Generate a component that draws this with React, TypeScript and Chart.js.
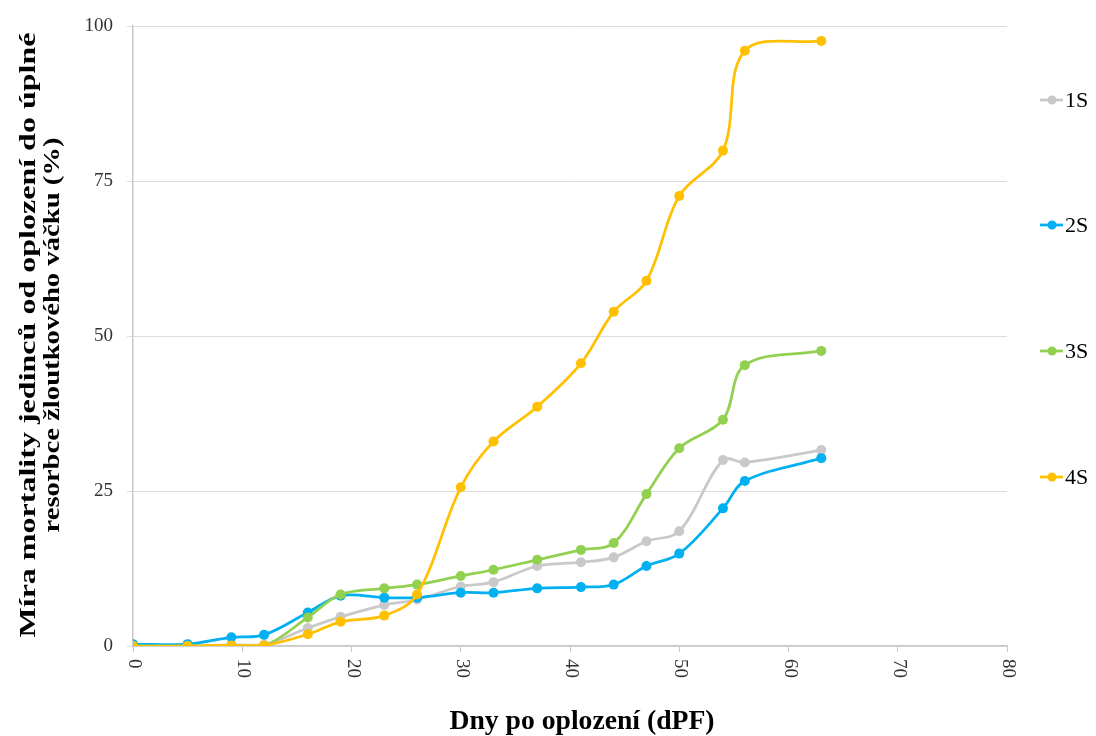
import React, { useEffect, useRef } from "react";
import { Chart, registerables } from "chart.js";

Chart.register(...registerables);

// Days after fertilisation at which mortality was recorded
const days = [0, 5, 9, 12, 16, 19, 23, 26, 30, 33, 37, 41, 44, 47, 50, 54, 56, 63];

// Cumulative mortality (%) for each group
const series1S = [0, 0, 0.2, 0.2, 2.9, 4.7, 6.6, 7.5, 9.6, 10.3, 12.9, 13.5, 14.3, 16.9, 18.5, 30.0, 29.6, 31.6];
const series2S = [0.3, 0.3, 1.4, 1.8, 5.4, 8.1, 7.8, 7.8, 8.6, 8.6, 9.3, 9.5, 9.9, 12.9, 14.9, 22.2, 26.6, 30.3];
const series3S = [0, 0, 0, 0, 4.6, 8.3, 9.3, 9.9, 11.3, 12.3, 13.9, 15.5, 16.6, 24.5, 31.9, 36.5, 45.3, 47.6];
const series4S = [0, 0, 0.1, 0.1, 1.9, 3.9, 4.9, 8.3, 25.6, 33.0, 38.6, 45.6, 53.9, 58.9, 72.6, 79.9, 96.0, 97.6];

const seriesNames = ["1S", "2S", "3S", "4S"];
const seriesColors = ["#C9C9C9", "#00B0F0", "#92D050", "#FFC000"];
const seriesValues = [series1S, series2S, series3S, series4S];

const xTicks = [0, 10, 20, 30, 40, 50, 60, 70, 80];
const yTicks = [0, 25, 50, 75, 100];

const xTitle = "Dny po oplození (dPF)";
const yTitleLines = ["Míra mortality jedinců od oplození do úplné", "resorbce žloutkového váčku (%)"];

const SERIF = "'Liberation Serif', 'Times New Roman', serif";

// Draws text squeezed or stretched to a given length
function fitText(ctx: CanvasRenderingContext2D, text: string, length: number) {
  const w = ctx.measureText(text).width;
  ctx.save();
  ctx.scale(length / w, 1);
  ctx.fillText(text, 0, 0);
  ctx.restore();
}

const annotations = {
  id: "annotations",
  afterDraw(chart: any) {
    const ctx: CanvasRenderingContext2D = chart.ctx;
    const xs = chart.scales.x;
    const ys = chart.scales.y;
    ctx.save();

    // x tick labels, rotated to read downwards
    ctx.fillStyle = "#333333";
    ctx.font = `19px ${SERIF}`;
    ctx.textAlign = "left";
    ctx.textBaseline = "middle";
    xTicks.forEach((t) => {
      const px = xs.getPixelForValue(t);
      ctx.save();
      ctx.translate(px + 1, ys.bottom + 13);
      ctx.rotate(Math.PI / 2);
      ctx.fillText(String(t), 0, 0);
      ctx.restore();
    });

    // axis titles
    ctx.fillStyle = "#000000";
    ctx.font = `bold 27px ${SERIF}`;
    ctx.textAlign = "center";
    ctx.textBaseline = "middle";
    ctx.save();
    ctx.translate(582, 722);
    fitText(ctx, xTitle, 265);
    ctx.restore();

    ctx.font = `bold 23px ${SERIF}`;
    const yLens = [605, 395];
    const yCx = [29, 53];
    yTitleLines.forEach((line, i) => {
      ctx.save();
      ctx.translate(yCx[i], 335);
      ctx.rotate(-Math.PI / 2);
      fitText(ctx, line, yLens[i]);
      ctx.restore();
    });

    // legend
    const legendY = [100, 225, 351, 477];
    ctx.font = `22px ${SERIF}`;
    ctx.textAlign = "left";
    ctx.textBaseline = "middle";
    seriesNames.forEach((name, i) => {
      const y = legendY[i];
      ctx.strokeStyle = seriesColors[i];
      ctx.lineWidth = 2.75;
      ctx.beginPath();
      ctx.moveTo(1040, y);
      ctx.lineTo(1063, y);
      ctx.stroke();
      ctx.fillStyle = seriesColors[i];
      ctx.beginPath();
      ctx.arc(1052, y, 4.5, 0, Math.PI * 2);
      ctx.fill();
      ctx.fillStyle = "#000000";
      ctx.fillText(name, 1065, y + 1);
    });

    ctx.restore();
  },
};

export default function App() {
  const canvasRef = useRef<HTMLCanvasElement | null>(null);

  useEffect(() => {
    document.body.style.margin = "0";
    const canvas = canvasRef.current;
    if (!canvas) return;

    const datasets = seriesNames.map((name, i) => ({
      label: name,
      data: days.map((d, j) => ({ x: d, y: seriesValues[i][j] })),
      borderColor: seriesColors[i],
      backgroundColor: seriesColors[i],
      borderWidth: 2.75,
      pointRadius: 5,
      pointBorderWidth: 0,
      pointBackgroundColor: seriesColors[i],
      tension: 0.35,
      order: seriesNames.length - i,
    }));

    const chart = new Chart(canvas, {
      type: "line",
      data: { datasets },
      options: {
        responsive: false,
        animation: false,
        layout: { padding: { left: 0, top: 26, right: 89, bottom: 0 } },
        plugins: { legend: { display: false }, tooltip: { enabled: false } },
        scales: {
          x: {
            type: "linear",
            min: 0,
            max: 80,
            afterBuildTicks: (scale: any) => {
              scale.ticks = xTicks.map((v) => ({ value: v }));
            },
            afterFit: (scale: any) => {
              scale.height = 90;
            },
            ticks: { display: false },
            grid: {
              drawOnChartArea: false,
              drawTicks: true,
              tickLength: 6,
              color: "#C8C8C8",
            },
            border: { color: "#C8C8C8", width: 1.5 },
          },
          y: {
            type: "linear",
            min: 0,
            max: 100,
            afterBuildTicks: (scale: any) => {
              scale.ticks = yTicks.map((v) => ({ value: v }));
            },
            afterFit: (scale: any) => {
              scale.width = 133;
            },
            ticks: {
              color: "#333333",
              font: { family: SERIF, size: 19 },
              padding: 14,
            },
            grid: { color: "#DCDCDC", tickLength: 6, lineWidth: 1 },
            border: { color: "#C8C8C8", width: 1.5 },
          },
        },
      },
      plugins: [annotations],
    });

    return () => chart.destroy();
  }, []);

  return <canvas ref={canvasRef} width={1096} height={736} style={{ display: "block" }} />;
}
